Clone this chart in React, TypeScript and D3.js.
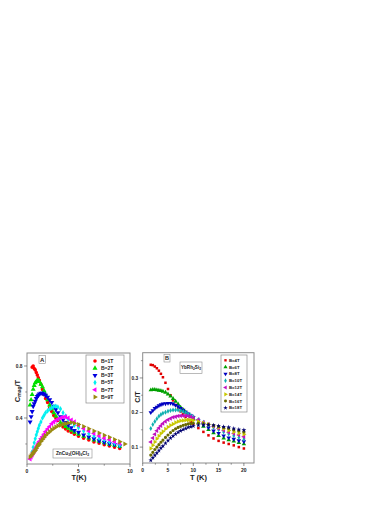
import * as d3 from "d3";

// Panel A: ZnCu3(OH)6Cl2, Cmag/T vs T
const tempsA = [0.3, 0.4, 0.5, 0.6, 0.7, 0.8, 0.9, 1.0, 1.1, 1.2, 1.35, 1.5, 1.65, 1.8, 2.0, 2.2, 2.4, 2.6, 2.8, 3.0, 3.25, 3.5, 3.75, 4.0, 4.3, 4.6, 5.0, 5.5, 6.0, 6.5, 7.0, 7.5, 8.0, 8.5, 9.0, 9.5];
const a1T = [null, null, 0.79, 0.8, 0.78, 0.77, 0.75, 0.73, 0.71, 0.69, 0.66, 0.62, 0.58, 0.55, 0.52, 0.48, 0.45, 0.42, 0.4, 0.38, 0.35, 0.33, 0.315, 0.3, 0.29, 0.275, 0.26, 0.245, 0.23, 0.215, 0.205, 0.195, 0.185, 0.175, 0.165, null];
const a2T = [0.5, 0.54, 0.58, 0.62, 0.65, 0.67, 0.68, 0.69, 0.69, 0.68, 0.66, 0.64, 0.61, 0.58, 0.54, 0.5, 0.47, 0.44, 0.415, 0.39, 0.365, 0.35, 0.335, 0.32, 0.305, 0.29, 0.275, 0.26, 0.245, 0.23, 0.22, 0.21, 0.198, 0.19, 0.18, null];
const a3T = [0.37, 0.41, 0.45, 0.49, 0.51, 0.53, 0.55, 0.565, 0.575, 0.585, 0.59, 0.59, 0.585, 0.575, 0.56, 0.54, 0.52, 0.49, 0.465, 0.44, 0.41, 0.385, 0.365, 0.345, 0.325, 0.305, 0.29, 0.27, 0.255, 0.24, 0.225, 0.213, 0.203, 0.195, 0.185, null];
const a5T = [null, 0.11, 0.14, 0.175, 0.21, 0.24, 0.27, 0.295, 0.32, 0.345, 0.37, 0.4, 0.42, 0.44, 0.455, 0.47, 0.48, 0.488, 0.49, 0.485, 0.47, 0.44, 0.415, 0.39, 0.365, 0.345, 0.325, 0.3, 0.28, 0.262, 0.245, 0.232, 0.218, 0.205, 0.19, null];
const a7T = [0.085, 0.1, 0.115, 0.13, 0.145, 0.16, 0.175, 0.19, 0.205, 0.22, 0.24, 0.255, 0.275, 0.295, 0.315, 0.335, 0.355, 0.37, 0.38, 0.39, 0.4, 0.405, 0.41, 0.4, 0.385, 0.37, 0.345, 0.32, 0.3, 0.28, 0.262, 0.245, 0.232, 0.218, 0.205, null];
const a9T = [0.1, 0.11, 0.12, 0.13, 0.14, 0.15, 0.165, 0.18, 0.19, 0.2, 0.22, 0.235, 0.25, 0.265, 0.28, 0.295, 0.31, 0.32, 0.33, 0.34, 0.345, 0.352, 0.358, 0.362, 0.365, 0.36, 0.35, 0.335, 0.318, 0.3, 0.285, 0.268, 0.252, 0.235, 0.218, 0.2];
const labelsA = ["B=1T", "B=2T", "B=3T", "B=5T", "B=7T", "B=9T"];

// Panel B: YbRh2Si2, C/T vs T
const tempsB = [1.6, 2.0, 2.4, 2.8, 3.2, 3.6, 4.0, 4.5, 5.0, 5.5, 6.0, 6.5, 7.0, 7.5, 8.0, 8.5, 9.0, 9.5, 10, 11, 12, 13, 14, 15, 16, 17, 18, 19, 20];
const b4T = [0.338, 0.337, 0.333, 0.328, 0.321, 0.312, 0.302, 0.286, 0.268, 0.25, 0.235, 0.222, 0.212, 0.203, 0.195, 0.187, 0.179, 0.173, 0.167, 0.155, 0.144, 0.134, 0.125, 0.118, 0.113, 0.109, 0.105, 0.1, 0.096];
const b6T = [0.265, 0.266, 0.266, 0.265, 0.264, 0.263, 0.261, 0.258, 0.253, 0.247, 0.24, 0.232, 0.224, 0.215, 0.208, 0.201, 0.194, 0.188, 0.182, 0.171, 0.16, 0.15, 0.141, 0.133, 0.126, 0.121, 0.117, 0.113, 0.109];
const b8T = [0.2, 0.206, 0.212, 0.216, 0.22, 0.223, 0.225, 0.226, 0.227, 0.227, 0.225, 0.221, 0.217, 0.212, 0.207, 0.201, 0.196, 0.191, 0.186, 0.176, 0.166, 0.156, 0.147, 0.14, 0.133, 0.127, 0.123, 0.119, 0.116];
const b10T = [0.154, 0.165, 0.174, 0.182, 0.189, 0.194, 0.198, 0.201, 0.204, 0.206, 0.207, 0.207, 0.207, 0.205, 0.203, 0.2, 0.196, 0.192, 0.188, 0.18, 0.172, 0.164, 0.157, 0.15, 0.144, 0.138, 0.133, 0.128, 0.123];
const b12T = [0.115, 0.126, 0.137, 0.147, 0.155, 0.162, 0.168, 0.174, 0.179, 0.183, 0.186, 0.188, 0.19, 0.191, 0.191, 0.191, 0.19, 0.188, 0.185, 0.179, 0.172, 0.166, 0.16, 0.154, 0.149, 0.143, 0.139, 0.135, 0.13];
const b14T = [0.096, 0.105, 0.115, 0.124, 0.132, 0.139, 0.145, 0.152, 0.158, 0.163, 0.167, 0.171, 0.174, 0.176, 0.177, 0.178, 0.178, 0.178, 0.177, 0.174, 0.17, 0.166, 0.161, 0.157, 0.153, 0.148, 0.144, 0.14, 0.137];
const b16T = [0.077, 0.085, 0.093, 0.1, 0.107, 0.114, 0.12, 0.128, 0.135, 0.142, 0.148, 0.153, 0.157, 0.16, 0.163, 0.165, 0.167, 0.168, 0.169, 0.169, 0.168, 0.166, 0.163, 0.16, 0.157, 0.154, 0.15, 0.147, 0.144];
const b18T = [0.062, 0.069, 0.076, 0.083, 0.09, 0.097, 0.103, 0.111, 0.119, 0.126, 0.132, 0.138, 0.143, 0.147, 0.151, 0.154, 0.157, 0.159, 0.161, 0.163, 0.164, 0.164, 0.163, 0.161, 0.159, 0.157, 0.154, 0.151, 0.149];
const labelsB = ["B=4T", "B=6T", "B=8T", "B=10T", "B=12T", "B=14T", "B=16T", "B=18T"];

const FONT = "Liberation Sans, Arial, sans-serif";
const FRAME = "#8c8c8c";

type Mark = { type: d3.SymbolType; rot: number; size: number };
const circle: Mark = { type: d3.symbolCircle, rot: 0, size: 10 };
const triUp: Mark = { type: d3.symbolTriangle, rot: 0, size: 11 };
const triDown: Mark = { type: d3.symbolTriangle, rot: 180, size: 11 };
const diamond: Mark = { type: d3.symbolDiamond, rot: 0, size: 9 };
const triLeft: Mark = { type: d3.symbolTriangle, rot: -90, size: 11 };
const triRight: Mark = { type: d3.symbolTriangle, rot: 90, size: 11 };
const square: Mark = { type: d3.symbolSquare, rot: 0, size: 8 };
const star: Mark = { type: d3.symbolStar, rot: 0, size: 9 };

const seriesA = [
  { vals: a1T, color: "#ff0000", mark: circle },
  { vals: a2T, color: "#00e000", mark: triUp },
  { vals: a3T, color: "#0000e0", mark: triDown },
  { vals: a5T, color: "#00f0f0", mark: diamond },
  { vals: a7T, color: "#ff00ff", mark: triLeft },
  { vals: a9T, color: "#9a8a10", mark: triRight },
];
const seriesB = [
  { vals: b4T, color: "#e00000", mark: square },
  { vals: b6T, color: "#00a000", mark: triUp },
  { vals: b8T, color: "#0000c0", mark: triDown },
  { vals: b10T, color: "#10b0b0", mark: diamond },
  { vals: b12T, color: "#c010c0", mark: triLeft },
  { vals: b14T, color: "#c8c800", mark: triRight },
  { vals: b16T, color: "#6a6a00", mark: circle },
  { vals: b18T, color: "#000070", mark: star },
];

const Sym = ({ x, y, m, color, scale = 1 }: { x: number; y: number; m: Mark; color: string; scale?: number }) => (
  <path
    d={d3.symbol().type(m.type).size(m.size * scale)()!}
    transform={`translate(${x},${y}) rotate(${m.rot})`}
    fill={color}
  />
);

const Axes = ({ x, y, xTicks, xMinor, yTicks, yMinor, yFmt }: any) => {
  const [x0, x1] = x.range();
  const [y0, y1] = y.range();
  return (
    <g fontFamily={FONT} fontWeight="bold" fill="#222">
      <rect x={x0} y={y1} width={x1 - x0} height={y0 - y1} fill="none" stroke={FRAME} strokeWidth={1} />
      {xTicks.map((t: number) => (
        <g key={"x" + t}>
          <line x1={x(t)} x2={x(t)} y1={y0} y2={y0 + 3} stroke="#444" strokeWidth={0.6} />
          <text x={x(t)} y={y0 + 8.5} fontSize={5} textAnchor="middle">{t}</text>
        </g>
      ))}
      {xMinor.map((t: number) => (
        <line key={"xm" + t} x1={x(t)} x2={x(t)} y1={y0} y2={y0 + 1.8} stroke="#444" strokeWidth={0.5} />
      ))}
      {yTicks.map((t: number) => (
        <g key={"y" + t}>
          <line x1={x0 - 3} x2={x0} y1={y(t)} y2={y(t)} stroke="#444" strokeWidth={0.6} />
          <text x={x0 - 4.5} y={y(t) + 1.7} fontSize={4.8} textAnchor="end">{yFmt(t)}</text>
        </g>
      ))}
      {yMinor.map((t: number) => (
        <line key={"ym" + t} x1={x0 - 1.8} x2={x0} y1={y(t)} y2={y(t)} stroke="#444" strokeWidth={0.5} />
      ))}
    </g>
  );
};

export default function App() {
  const xA = d3.scaleLinear().domain([0, 10]).range([27, 130]);
  const yA = d3.scaleLinear().domain([0.046, 0.9]).range([464, 353]);
  const xB = d3.scaleLinear().domain([0, 22]).range([142.7, 254]);
  const yB = d3.scaleLinear().domain([0.054, 0.373]).range([463, 352.7]);

  return (
    <svg width={390} height={505} style={{ position: "absolute", left: 0, top: 0 }}>
      <rect width={390} height={505} fill="#fff" />

      {/* Panel A */}
      <Axes x={xA} y={yA} xTicks={[0, 5, 10]} xMinor={[2.5, 7.5]} yTicks={[0.4, 0.8]} yMinor={[0.2, 0.6]} yFmt={d3.format(".1f")} />
      {seriesA.map((s, i) => (
        <g key={"sa" + i}>
          {tempsA.map((t, j) =>
            s.vals[j] == null ? null : <Sym key={j} x={xA(t)} y={yA(s.vals[j] as number)} m={s.mark} color={s.color} />
          )}
        </g>
      ))}
      <g fontFamily={FONT} fontWeight="bold" fill="#222">
        <rect x={39} y={355.5} width={6.5} height={8} fill="#fff" stroke={FRAME} strokeWidth={0.6} />
        <text x={42.25} y={361.7} fontSize={6} textAnchor="middle">A</text>
        <rect x={86} y={355} width={38} height={48} fill="#fff" stroke={FRAME} strokeWidth={0.7} />
        {labelsA.map((l, i) => (
          <g key={l}>
            <Sym x={95} y={361 + i * 7.2} m={seriesA[i].mark} color={seriesA[i].color} />
            <text x={101} y={362.8 + i * 7.2} fontSize={5}>{l}</text>
          </g>
        ))}
        <rect x={53} y={449} width={39} height={9} fill="#fff" stroke={FRAME} strokeWidth={0.6} />
        <text x={72.5} y={455.3} fontSize={4.8} textAnchor="middle">
          ZnCu<tspan fontSize={3.4} dy={1}>3</tspan><tspan dy={-1}>(OH)</tspan><tspan fontSize={3.4} dy={1}>6</tspan><tspan dy={-1}>Cl</tspan><tspan fontSize={3.4} dy={1}>2</tspan>
        </text>
        <text transform="translate(19.5,391) rotate(-90)" fontSize={7.5} textAnchor="middle">
          C<tspan fontSize={5} dy={1.8}>mag</tspan><tspan dy={-1.8}>/T</tspan>
        </text>
        <text x={79} y={480} fontSize={7.5} textAnchor="middle">T(K)</text>
      </g>

      {/* Panel B */}
      <Axes x={xB} y={yB} xTicks={[0, 5, 10, 15, 20]} xMinor={[2.5, 7.5, 12.5, 17.5]} yTicks={[0.1, 0.2, 0.3]} yMinor={[0.15, 0.25, 0.35]} yFmt={d3.format(".1f")} />
      {seriesB.map((s, i) => (
        <g key={"sb" + i}>
          {tempsB.map((t, j) => (
            <Sym key={j} x={xB(t)} y={yB(s.vals[j])} m={s.mark} color={s.color} scale={0.8} />
          ))}
        </g>
      ))}
      <g fontFamily={FONT} fontWeight="bold" fill="#222">
        <rect x={164} y={354.5} width={6} height={7.5} fill="#fff" stroke={FRAME} strokeWidth={0.6} />
        <text x={167} y={360.3} fontSize={5.5} textAnchor="middle">B</text>
        <rect x={180} y={362} width={22} height={11.5} fill="#fff" stroke={FRAME} strokeWidth={0.6} />
        <text x={191} y={369} fontSize={4.6} textAnchor="middle">
          YbRh<tspan fontSize={3.3} dy={1}>2</tspan><tspan dy={-1}>Si</tspan><tspan fontSize={3.3} dy={1}>2</tspan>
        </text>
        <rect x={221} y={355} width={26} height={57} fill="#fff" stroke={FRAME} strokeWidth={0.7} />
        {labelsB.map((l, i) => (
          <g key={l}>
            <Sym x={225.5} y={360.3 + i * 6.8} m={seriesB[i].mark} color={seriesB[i].color} scale={0.7} />
            <text x={229} y={361.8 + i * 6.8} fontSize={4.3}>{l}</text>
          </g>
        ))}
        <text transform="translate(139.5,397) rotate(-90)" fontSize={7} textAnchor="middle">C/T</text>
        <text x={198.5} y={480} fontSize={7.5} textAnchor="middle">T (K)</text>
      </g>
    </svg>
  );
}
